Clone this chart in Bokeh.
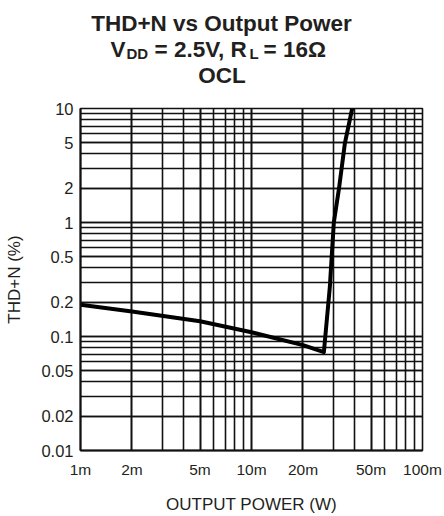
from bokeh.plotting import figure
from bokeh.layouts import column
from bokeh.models import Range1d, FixedTicker, ColumnDataSource
from bokeh.core.properties import value
from bokeh.embed import file_html
from bokeh.resources import INLINE

# ---- data ----
power_w = [0.001, 0.002, 0.005, 0.010, 0.020, 0.0265, 0.0287, 0.0303, 0.0325, 0.0352, 0.0388]
thdn_pct = [0.19, 0.166, 0.136, 0.109, 0.084, 0.073, 0.27, 1.0, 2.0, 5.0, 10.0]

x_ticks = [0.001, 0.002, 0.005, 0.01, 0.02, 0.05, 0.1]
x_tick_labels = ["1m", "2m", "5m", "10m", "20m", "50m", "100m"]
y_ticks = [0.01, 0.02, 0.05, 0.1, 0.2, 0.5, 1, 2, 5, 10]
y_tick_labels = ["0.01", "0.02", "0.05", "0.1", "0.2", "0.5", "1", "2", "5", "10"]

title_line1 = "THD+N vs Output Power"
title_line3 = "OCL"

FONT = "Liberation Sans"
HEADER_H = 90

# ---- header with title (sub-scripts drawn as separate texts) ----
# the column layout aligns this frame with the chart frame (pixels 80..422)
hdr = figure(width=444, height=HEADER_H, x_range=Range1d(80, 422), y_range=Range1d(HEADER_H, 0),
             x_axis_location=None, y_axis_location=None,
             output_backend="svg", toolbar_location=None,
             min_border=0, min_border_left=80, min_border_right=22, min_border_top=0, min_border_bottom=0)
hdr.grid.visible = False
hdr.outline_line_color = None

def htext(x, y, t, size, align="left"):
    hdr.text(x=[x], y=[y], text=[t], text_font=value(FONT), text_font_style="bold",
             text_font_size=size, text_align=align, text_baseline="alphabetic", text_color="#231f20")

htext(221, 22.7, title_line1, "22.5px", "center")
htext(110, 48.7, "V", "22.5px")
htext(126, 52.7, "DD", "15px")
htext(154, 48.7, "= 2.5V, R", "22.5px")
htext(249, 52.7, "L", "15px")
htext(263, 48.7, "= 16\u03a9", "22.5px")
htext(221.5, 75, title_line3, "22.5px", "center")

# ---- main chart ----
p = figure(width=444, height=516 - HEADER_H, x_axis_type="log", y_axis_type="log",
           x_range=Range1d(0.001, 0.1), y_range=Range1d(0.01, 10),
           output_backend="svg", toolbar_location=None,
           min_border_left=80, min_border_right=22, min_border_top=18, min_border_bottom=66)

minor_x = [m * d for d in (0.001, 0.01) for m in range(1, 11)]
minor_y = [m * d for d in (0.01, 0.1, 1) for m in range(1, 11)]
p.xaxis.ticker = FixedTicker(ticks=x_ticks, minor_ticks=minor_x)
p.yaxis.ticker = FixedTicker(ticks=y_ticks, minor_ticks=minor_y)
p.xaxis.major_label_overrides = {t: l for t, l in zip(x_ticks, x_tick_labels)}
p.yaxis.major_label_overrides = {t: l for t, l in zip(y_ticks, y_tick_labels)}

for ax in (p.xaxis, p.yaxis):
    ax.major_tick_out = 0
    ax.major_tick_in = 0
    ax.minor_tick_out = 0
    ax.minor_tick_in = 0
    ax.axis_line_color = "#111111"
    ax.axis_line_width = 2
    ax.major_label_text_font = FONT
    ax.major_label_text_color = "#231f20"
    ax.axis_label_text_font = FONT
    ax.axis_label_text_font_size = "17px"
    ax.axis_label_text_font_style = "normal"
    ax.axis_label_text_color = "#231f20"

p.xaxis.major_label_text_font_size = "15.5px"
p.yaxis.major_label_text_font_size = "16.5px"
p.xaxis.axis_label = "OUTPUT POWER (W)"
p.yaxis.axis_label = "THD+N (%)"
p.xaxis.major_label_standoff = 10
p.xaxis.axis_label_standoff = 14
p.yaxis.major_label_standoff = 7
p.yaxis.axis_label_standoff = 14

for g in (p.xgrid, p.ygrid):
    g.grid_line_color = "#111111"
    g.grid_line_width = 1.6
    g.minor_grid_line_color = "#111111"
    g.minor_grid_line_width = 1.6

p.outline_line_color = "#111111"
p.outline_line_width = 1.6
p.background_fill_color = "white"

src = ColumnDataSource(data=dict(x=power_w, y=thdn_pct))
p.line("x", "y", source=src, line_color="black", line_width=4, line_join="round")

layout = column(hdr, p, spacing=0)
open("out.html", "w").write(file_html(layout, INLINE))
